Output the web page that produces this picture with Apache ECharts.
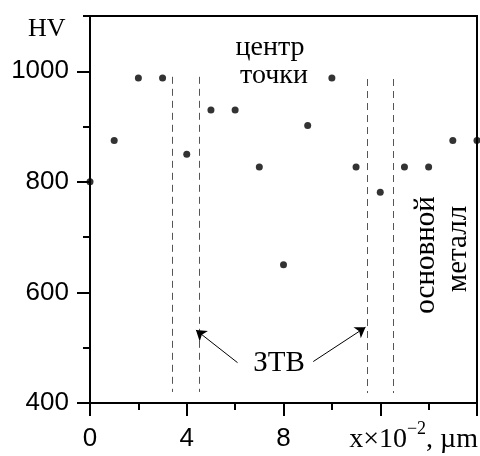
<!DOCTYPE html>
<html><head><meta charset="utf-8">
<script src="https://cdn.jsdelivr.net/npm/echarts@6/dist/echarts.min.js"></script>
<style>html,body{margin:0;padding:0;background:#fff}#c{width:480px;height:456px}</style>
</head><body><div id="c"></div>
<script>
// data
const xPos = [0, 1, 2, 3, 4, 5, 6, 7, 8, 9, 10, 11, 12, 13, 14, 15, 16];
const hv = [800, 875, 988, 988, 850, 930, 930, 827, 650, 902, 988, 827, 781, 827, 827, 875, 875];
const yLabelValues = [400, 600, 800, 1000];
const xLabelValues = [0, 4, 8];
const zoneBounds = [3.38, 4.52, 11.46, 12.55];
const zoneTop = [990, 990, 986, 986];
const zoneBottom = [420, 420, 418, 418];
const arrowTails = [[6.1, 473], [9.23, 475]];
const arrowHeads = [[4.38, 532], [11.39, 537]];
const yName = 'HV';
const centerLabel = ['центр', 'точки'];
const zoneLabel = 'ЗТВ';
const baseLabel = ['основной', 'металл'];

const chart = echarts.init(document.getElementById('c'));
const serif = '"Liberation Serif", "DejaVu Serif", serif';
const sans = '"Liberation Sans", Arial, sans-serif';

const dashed = zoneBounds.map((x, i) => [{coord: [x, zoneTop[i]]}, {coord: [x, zoneBottom[i]]}]);
const arrows = arrowTails.map((t, i) => [{coord: t}, {coord: arrowHeads[i]}]);

chart.setOption({
  animation: false,
  grid: {left: 90, right: 3, top: 16, bottom: 53, show: true, borderColor: '#000', borderWidth: 2},
  xAxis: {
    type: 'value', min: 0, max: 16, interval: 4,
    axisLine: {show: true, lineStyle: {color: '#000', width: 2}},
    axisTick: {show: true, length: 13, lineStyle: {color: '#000', width: 2}},
    minorTick: {show: true, splitNumber: 2, length: 7, lineStyle: {color: '#000', width: 2}},
    splitLine: {show: false}, minorSplitLine: {show: false},
    axisLabel: {
      margin: 23, fontFamily: sans, fontSize: 26, color: '#000',
      formatter: v => xLabelValues.indexOf(v) >= 0 ? String(v) : ''
    }
  },
  yAxis: [{
    type: 'value', min: 400, max: 1100, interval: 200,
    axisLine: {show: true, lineStyle: {color: '#000', width: 2}},
    axisTick: {show: true, length: 13, lineStyle: {color: '#000', width: 2}, customValues: yLabelValues},
    splitLine: {show: false},
    axisLabel: {
      margin: 21, fontFamily: sans, fontSize: 26, color: '#000',
      customValues: yLabelValues,
      formatter: v => String(v)
    }
  }, {
    type: 'value', min: 400, max: 1100, interval: 100, position: 'left',
    axisLine: {show: false},
    axisTick: {show: true, length: 7, lineStyle: {color: '#000', width: 2}},
    axisLabel: {show: false},
    splitLine: {show: false}
  }],
  series: [{
    type: 'scatter',
    data: xPos.map((x, i) => [x, hv[i]]),
    symbol: 'circle', symbolSize: 7,
    itemStyle: {color: '#000'},
    markLine: {
      silent: true, symbol: 'none', label: {show: false},
      lineStyle: {type: [7, 5], color: '#555', width: 1},
      data: dashed
    }
  }, {
    type: 'scatter', yAxisIndex: 1,
    data: yLabelValues.map(v => [0, v]),
    symbolSize: 0, itemStyle: {opacity: 0}, silent: true,
    markLine: {
      silent: true, symbol: ['none', 'arrow'], symbolSize: 10, label: {show: false},
      itemStyle: {color: '#000'},
      lineStyle: {type: 'solid', color: '#000', width: 1},
      data: arrows
    }
  }],
  graphic: [
    {type: 'text', left: 28, top: 16, style: {text: yName, font: '26px ' + serif, fill: '#000'}},
    {type: 'text', x: 270, y: 48, style: {text: centerLabel[0], font: '28px ' + serif, fill: '#000', align: 'center', verticalAlign: 'middle'}},
    {type: 'text', x: 274, y: 76, style: {text: centerLabel[1], font: '28px ' + serif, fill: '#000', align: 'center', verticalAlign: 'middle'}},
    {type: 'text', x: 279, y: 363, style: {text: zoneLabel, font: '29px ' + serif, fill: '#000', align: 'center', verticalAlign: 'middle'}},
    {type: 'text', x: 426, y: 255, rotation: Math.PI / 2, style: {text: baseLabel[0], font: '29px ' + serif, fill: '#000', align: 'center', verticalAlign: 'middle'}},
    {type: 'text', x: 458, y: 249, rotation: Math.PI / 2, style: {text: baseLabel[1], font: '29px ' + serif, fill: '#000', align: 'center', verticalAlign: 'middle'}},
    {type: 'text', x: 478, y: 437, style: {
      text: '{a|x×10}{s|−2}{a|, µm}', align: 'right', verticalAlign: 'middle',
      rich: {
        a: {fontFamily: serif, fontSize: 28, lineHeight: 34, verticalAlign: 'bottom', fill: '#000'},
        s: {fontFamily: serif, fontSize: 18, lineHeight: 18, verticalAlign: 'top', fill: '#000'}
      }
    }}
  ]
});
</script>
</body></html>
